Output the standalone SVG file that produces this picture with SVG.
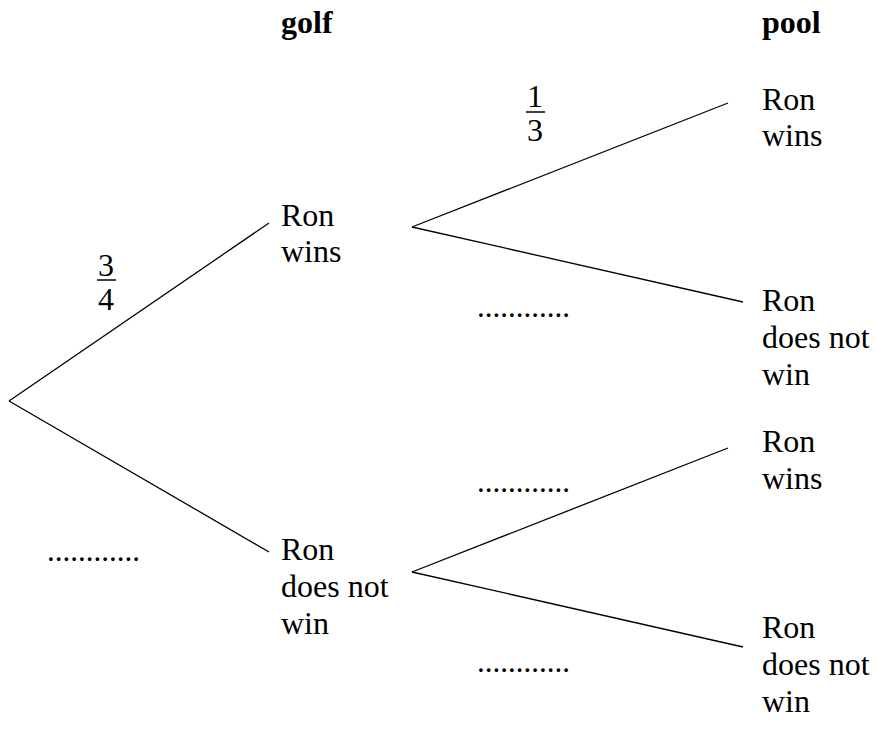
<svg xmlns="http://www.w3.org/2000/svg" width="876" height="745" viewBox="0 0 876 745">
<style>
text{font-family:'Liberation Serif','Times New Roman',Times,serif;font-size:32px;fill:#000}
.h{font-weight:bold}
.c{text-anchor:middle}
line{stroke:#000;stroke-width:1.3}
.bar{stroke-width:1.5}
.dots{font-size:31px}
</style>
<rect width="876" height="745" fill="#fff"/>
<g id="connectors">
<line x1="9" y1="401" x2="269" y2="223"/>
<line x1="9" y1="401" x2="269" y2="552"/>
<line x1="412" y1="227" x2="728" y2="103"/>
<line x1="412" y1="227" x2="743" y2="302"/>
<line x1="412" y1="572" x2="728" y2="448"/>
<line x1="412" y1="572" x2="743" y2="647"/>
</g>
<g id="header-golf"><text class="h" x="281" y="33">golf</text></g>
<g id="header-pool"><text class="h" x="762" y="33">pool</text></g>
<g id="golf-win"><text x="281" y="226">Ron</text><text x="281" y="262">wins</text></g>
<g id="golf-lose"><text x="281" y="560">Ron</text><text x="281" y="597">does not</text><text x="281" y="634">win</text></g>
<g id="pool-ww"><text x="762" y="110">Ron</text><text x="762" y="146">wins</text></g>
<g id="pool-wl"><text x="762" y="311">Ron</text><text x="762" y="348">does not</text><text x="762" y="385">win</text></g>
<g id="pool-lw"><text x="762" y="452">Ron</text><text x="762" y="489">wins</text></g>
<g id="pool-ll"><text x="762" y="638">Ron</text><text x="762" y="675">does not</text><text x="762" y="712">win</text></g>
<g id="frac-34"><text class="c" x="106" y="276">3</text><line class="bar" x1="97" y1="280" x2="116" y2="280"/><text class="c" x="106" y="310">4</text></g>
<g id="frac-13"><text class="c" x="535" y="107">1</text><line class="bar" x1="526" y1="112" x2="545" y2="112"/><text class="c" x="535" y="141">3</text></g>
<g id="blank-1"><text class="dots" x="47" y="561">............</text></g>
<g id="blank-2"><text class="dots" x="477" y="317">............</text></g>
<g id="blank-3"><text class="dots" x="477" y="492">............</text></g>
<g id="blank-4"><text class="dots" x="477" y="672">............</text></g>
</svg>
